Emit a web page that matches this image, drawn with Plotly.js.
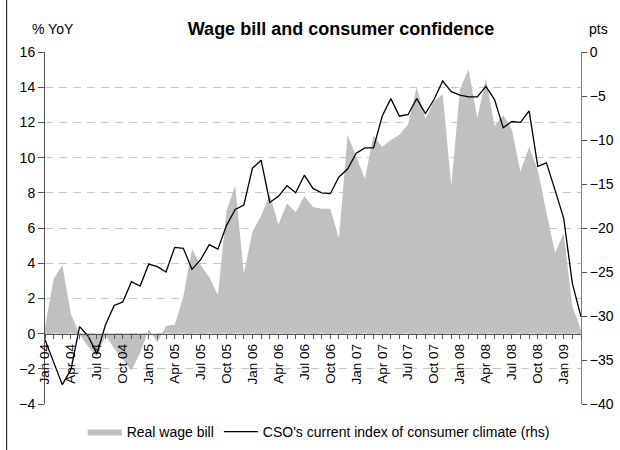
<!DOCTYPE html>
<html>
<head>
<meta charset="utf-8">
<script src="https://cdn.plot.ly/plotly-3.0.1.min.js"></script>
<style>html,body{margin:0;padding:0;background:#fff;}#chart{width:620px;height:450px;}</style>
</head>
<body>
<div id="chart"></div>
<script>
// Monthly categories Jan 04 .. Mar 09
const months = [
  "Jan 04","Feb 04","Mar 04","Apr 04","May 04","Jun 04","Jul 04","Aug 04","Sep 04","Oct 04","Nov 04","Dec 04",
  "Jan 05","Feb 05","Mar 05","Apr 05","May 05","Jun 05","Jul 05","Aug 05","Sep 05","Oct 05","Nov 05","Dec 05",
  "Jan 06","Feb 06","Mar 06","Apr 06","May 06","Jun 06","Jul 06","Aug 06","Sep 06","Oct 06","Nov 06","Dec 06",
  "Jan 07","Feb 07","Mar 07","Apr 07","May 07","Jun 07","Jul 07","Aug 07","Sep 07","Oct 07","Nov 07","Dec 07",
  "Jan 08","Feb 08","Mar 08","Apr 08","May 08","Jun 08","Jul 08","Aug 08","Sep 08","Oct 08","Nov 08","Dec 08",
  "Jan 09","Feb 09","Mar 09"
];

// Real wage bill, % YoY (left axis)
const wageBill = [
  0.4, 3.1, 3.9, 1.1, -0.05, -0.75, -1.3, -0.1, -0.85, -1.5, -2.1, -1.1,
  0.25, -0.5, 0.45, 0.5, 2.1, 4.8, 3.9, 3.2, 2.2, 7.0, 8.4, 3.4,
  5.8, 6.7, 7.9, 6.2, 7.4, 6.9, 7.8, 7.2, 7.1, 7.1, 5.4, 11.3,
  10.1, 8.8, 11.25, 10.6, 11.0, 11.3, 11.9, 14.0, 12.2, 13.2, 13.6, 8.4,
  13.9, 15.0, 12.25, 14.5, 11.8, 12.4, 11.6, 9.2, 10.6, 9.3, 6.9, 4.6,
  5.7, 1.55, 0.2
];

// CSO's current index of consumer climate, pts (right axis)
const consumerClimate = [
  -32.7, -35.2, -37.8, -36.1, -31.2, -32.3, -34.3, -31.0, -28.8, -28.4, -26.1, -26.6,
  -24.1, -24.4, -25.0, -22.2, -22.3, -24.7, -23.6, -21.9, -22.4, -19.7, -17.9, -17.4,
  -13.2, -12.3, -17.1, -16.4, -15.2, -16.0, -14.0, -15.5, -16.0, -16.1, -14.2, -13.3,
  -11.5, -10.9, -10.9, -7.3, -5.3, -7.3, -7.1, -5.3, -7.0, -5.4, -3.3, -4.5,
  -4.9, -5.1, -5.1, -3.9, -5.4, -8.6, -7.9, -8.0, -6.7, -13.0, -12.6, -15.7,
  -18.9, -26.3, -30.1
];

// Tick labels: every third month labelled
const tickLabels = months.map((m, i) => (i % 3 === 0 ? m : ""));

const FONT = "Liberation Sans, Arial, sans-serif";

const traces = [
  {
    type: "scatter", mode: "lines", name: "Real wage bill",
    x: months, y: wageBill, fill: "tozeroy",
    fillcolor: "#c0c0c0", line: {width: 0, color: "#c0c0c0"},
    xaxis: "x", yaxis: "y"
  },
  {
    type: "scatter", mode: "lines", name: "CSO's current index of consumer climate (rhs)",
    x: months, y: consumerClimate,
    line: {width: 1.3, color: "#000000"},
    xaxis: "x", yaxis: "y2"
  }
];

const layout = {
  width: 620, height: 450,
  paper_bgcolor: "#ffffff", plot_bgcolor: "#ffffff",
  font: {family: FONT, size: 14, color: "#000"},
  margin: {l: 45, r: 39, t: 52, b: 46, autoexpand: false},
  showlegend: true,
  title: {
    text: "Wage bill and consumer confidence",
    font: {family: FONT, size: 18, weight: "bold", color: "#000"},
    xref: "container", x: 0.55, xanchor: "center",
    yref: "container", y: 0.936, yanchor: "middle"
  },
  xaxis: {
    type: "category", range: [0, months.length - 1],
    anchor: "free", position: 0.2,
    tickmode: "array", tickvals: months, ticktext: tickLabels,
    tickangle: -90, tickfont: {size: 13.5},
    ticks: "outside", ticklen: 4, tickcolor: "#555",
    showline: true, linecolor: "#555", linewidth: 1,
    showgrid: false, zeroline: false
  },
  yaxis: {
    range: [-4, 16], tickmode: "linear", tick0: 0, dtick: 2,
    ticks: "outside", ticklen: 6, tickcolor: "#555",
    showline: true, linecolor: "#555", linewidth: 1,
    showgrid: true, gridcolor: "#c8c8c8", griddash: "8px,6px", gridwidth: 1,
    zeroline: false, tickfont: {size: 14}
  },
  yaxis2: {
    overlaying: "y", side: "right", anchor: "x",
    range: [-40, 0], tickmode: "linear", tick0: 0, dtick: 5,
    ticks: "outside", ticklen: 5, tickcolor: "#555",
    showline: true, linecolor: "#808080", linewidth: 1,
    showgrid: false, zeroline: false, tickfont: {size: 14}
  },
  yaxis3: {
    overlaying: "y", side: "right", anchor: "x",
    range: [-40, 0], tickmode: "linear", tick0: 0, dtick: 5,
    ticks: "inside", ticklen: 5, tickcolor: "#555",
    showline: false, showgrid: false, zeroline: false, showticklabels: false
  },
  legend: {
    orientation: "h", font: {size: 14},
    xref: "container", x: 0.514, xanchor: "center",
    yref: "container", y: 0.04, yanchor: "middle",
    bgcolor: "rgba(0,0,0,0)", itemwidth: 34
  },
  annotations: [
    {text: "% YoY", xref: "paper", yref: "paper", x: 0.015, y: 1.065,
     xanchor: "center", yanchor: "middle", showarrow: false, font: {size: 14}},
    {text: "pts", xref: "paper", yref: "paper", x: 1.032, y: 1.065,
     xanchor: "center", yanchor: "middle", showarrow: false, font: {size: 14}}
  ],
  shapes: [
    {type: "line", xref: "paper", yref: "paper", x0: -0.0715, x1: -0.0715, y0: -0.3, y1: 1.3,
     line: {color: "#000", width: 1}}
  ],
  hovermode: false
};

Plotly.newPlot("chart", traces, layout, {displayModeBar: false, staticPlot: true});
</script>
</body>
</html>
